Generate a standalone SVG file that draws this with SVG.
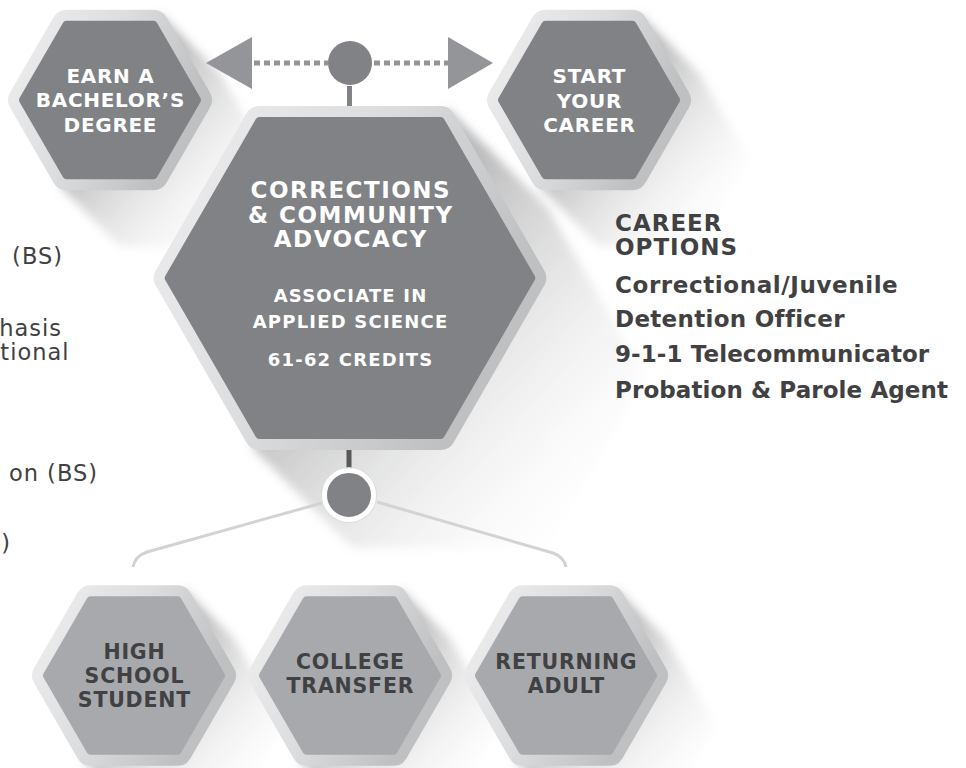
<svg xmlns="http://www.w3.org/2000/svg" width="966" height="768" viewBox="0 0 966 768">
<defs>
<linearGradient id="gBorder" x1="0" y1="0" x2="1" y2="0.4">
<stop offset="0" stop-color="#ededee"/>
<stop offset="0.5" stop-color="#dcdddf"/>
<stop offset="1" stop-color="#bfc0c2"/>
</linearGradient>
<linearGradient id="gShadow" x1="0" y1="0" x2="1" y2="1">
<stop offset="0.35" stop-color="#6d6e71" stop-opacity="0.45"/>
<stop offset="0.95" stop-color="#ffffff" stop-opacity="0"/>
</linearGradient>
<filter id="blur" x="-20%" y="-20%" width="140%" height="140%">
<feGaussianBlur stdDeviation="5"/>
</filter>
<style>
.shadow{fill:url(#gShadow);filter:url(#blur)}
.hb{fill:none;stroke:url(#gBorder);stroke-width:30;stroke-linejoin:round}
.hd{fill:#808285;stroke:#808285;stroke-width:8;stroke-linejoin:round}
.hl{fill:#a7a9ac;stroke:#a7a9ac;stroke-width:8;stroke-linejoin:round}
.tw{font-family:"DejaVu Sans",sans-serif;font-weight:bold;fill:#ffffff;text-anchor:middle}
.tk{font-family:"DejaVu Sans",sans-serif;font-weight:bold;fill:#414042;text-anchor:middle;font-size:20.5px;letter-spacing:0.8px}
.t20{font-size:20px;letter-spacing:0.7px}
.t22{font-size:23px;letter-spacing:1.5px}
.t18{font-size:18px;letter-spacing:1.2px}
.opt{font-family:"DejaVu Sans",sans-serif;font-weight:bold;fill:#414042;font-size:23px}
.frag{font-family:"DejaVu Sans",sans-serif;fill:#414042;font-size:22.5px;letter-spacing:1px;text-anchor:end}
.dots{fill:none;stroke:#939598;stroke-width:5;stroke-dasharray:6 4}
.link{fill:none;stroke:#d1d3d4;stroke-width:3}
</style>
</defs>

<g id="shadows">
<polygon class="shadow" transform="translate(110,100)" points="50,-86.6 110,-26.6 160,60 110,146.6 10,146.6 -50,86.6"/>
<polygon class="shadow" transform="translate(589,100)" points="50,-86.6 110,-26.6 160,60 110,146.6 10,146.6 -50,86.6"/>
<polygon class="shadow" transform="translate(350,278)" points="98,-169.7 198,-69.7 296,100 198,269.7 2,269.7 -98,169.7"/>
<polygon class="shadow" transform="translate(134,675.5)" points="50,-86.6 100,-36.6 150,50 100,136.6 0,136.6 -50,86.6"/>
<polygon class="shadow" transform="translate(350,675.5)" points="50,-86.6 100,-36.6 150,50 100,136.6 0,136.6 -50,86.6"/>
<polygon class="shadow" transform="translate(566,675.5)" points="50,-86.6 100,-36.6 150,50 100,136.6 0,136.6 -50,86.6"/>
</g>

<g id="left-text">
<text class="frag" x="63" y="264">(BS)</text>
<text class="frag" x="62" y="336">hasis</text>
<text class="frag" x="69.5" y="360">tional</text>
<text class="frag" x="98" y="481">on (BS)</text>
<text class="frag" x="11" y="551">)</text>
</g>

<g id="connectors">
<polygon points="206,63 252,37 252,89" fill="#939598"/>
<polygon points="493,63 448,37 448,89" fill="#939598"/>
<line class="dots" x1="254" y1="63" x2="328" y2="63"/>
<line class="dots" x1="374" y1="63" x2="448" y2="63"/>
<circle cx="350" cy="63" r="22" fill="#808285"/>
<rect x="347" y="86" width="5" height="22" fill="#808285"/>
<rect x="346.5" y="448" width="5" height="24" fill="#58595b"/>
<path class="link" d="M322,503 L147,552 Q135,556 133,567"/>
<path class="link" d="M377,502 L553,553 Q564,557 566,567"/>
<circle cx="349" cy="495" r="27.5" fill="none" stroke="#dcdddf" stroke-width="1"/>
<circle cx="349" cy="495" r="24.5" fill="#808285" stroke="#ffffff" stroke-width="5"/>
</g>

<g id="node-earn" transform="translate(110,100)">
<polygon class="hb" points="87,0 43.5,75.34 -43.5,75.34 -87,0 -43.5,-75.34 43.5,-75.34"/>
<polygon class="hd" points="87,0 43.5,75.34 -43.5,75.34 -87,0 -43.5,-75.34 43.5,-75.34"/>
<text class="tw t20" x="0.4" y="-17">EARN A</text>
<text class="tw t20" x="0.4" y="7">BACHELOR’S</text>
<text class="tw t20" x="0.4" y="32">DEGREE</text>
</g>

<g id="node-start" transform="translate(589,100)">
<polygon class="hb" points="87,0 43.5,75.34 -43.5,75.34 -87,0 -43.5,-75.34 43.5,-75.34"/>
<polygon class="hd" points="87,0 43.5,75.34 -43.5,75.34 -87,0 -43.5,-75.34 43.5,-75.34"/>
<text class="tw t20" x="0.4" y="-17">START</text>
<text class="tw t20" x="0.4" y="8">YOUR</text>
<text class="tw t20" x="0.4" y="32">CAREER</text>
</g>

<g id="node-program" transform="translate(350,278)">
<polygon class="hb" points="181.3,0 90.65,157 -90.65,157 -181.3,0 -90.65,-157 90.65,-157"/>
<polygon class="hd" points="181.3,0 90.65,157 -90.65,157 -181.3,0 -90.65,-157 90.65,-157"/>
<text class="tw t22" x="0.8" y="-80">CORRECTIONS</text>
<text class="tw t22" x="0.8" y="-55">&amp; COMMUNITY</text>
<text class="tw t22" x="0.8" y="-31">ADVOCACY</text>
<text class="tw t18" x="0.6" y="24">ASSOCIATE IN</text>
<text class="tw t18" x="0.6" y="50">APPLIED SCIENCE</text>
<text class="tw t18" x="0.6" y="88">61-62 CREDITS</text>
</g>

<g id="career-options">
<text class="opt" x="615" y="231" font-size="24" letter-spacing="1">CAREER</text>
<text class="opt" x="615" y="255" font-size="24" letter-spacing="1">OPTIONS</text>
<text class="opt" x="615" y="293" letter-spacing="0.6">Correctional/Juvenile</text>
<text class="opt" x="615" y="327" letter-spacing="0.3">Detention Officer</text>
<text class="opt" x="615" y="362" letter-spacing="0.1">9-1-1 Telecommunicator</text>
<text class="opt" x="615" y="398" letter-spacing="0.1">Probation &amp; Parole Agent</text>
</g>

<g id="node-highschool" transform="translate(134,675.5)">
<polygon class="hb" points="87,0 43.5,75.34 -43.5,75.34 -87,0 -43.5,-75.34 43.5,-75.34"/>
<polygon class="hl" points="87,0 43.5,75.34 -43.5,75.34 -87,0 -43.5,-75.34 43.5,-75.34"/>
<text class="tk" x="0.4" y="-16.5">HIGH</text>
<text class="tk" x="0.4" y="7.5">SCHOOL</text>
<text class="tk" x="0.4" y="31.5">STUDENT</text>
</g>

<g id="node-transfer" transform="translate(350,675.5)">
<polygon class="hb" points="87,0 43.5,75.34 -43.5,75.34 -87,0 -43.5,-75.34 43.5,-75.34"/>
<polygon class="hl" points="87,0 43.5,75.34 -43.5,75.34 -87,0 -43.5,-75.34 43.5,-75.34"/>
<text class="tk" x="0.4" y="-6.5">COLLEGE</text>
<text class="tk" x="0.4" y="17.5">TRANSFER</text>
</g>

<g id="node-adult" transform="translate(566,675.5)">
<polygon class="hb" points="87,0 43.5,75.34 -43.5,75.34 -87,0 -43.5,-75.34 43.5,-75.34"/>
<polygon class="hl" points="87,0 43.5,75.34 -43.5,75.34 -87,0 -43.5,-75.34 43.5,-75.34"/>
<text class="tk" x="0.4" y="-6.5">RETURNING</text>
<text class="tk" x="0.4" y="17.5">ADULT</text>
</g>
</svg>
